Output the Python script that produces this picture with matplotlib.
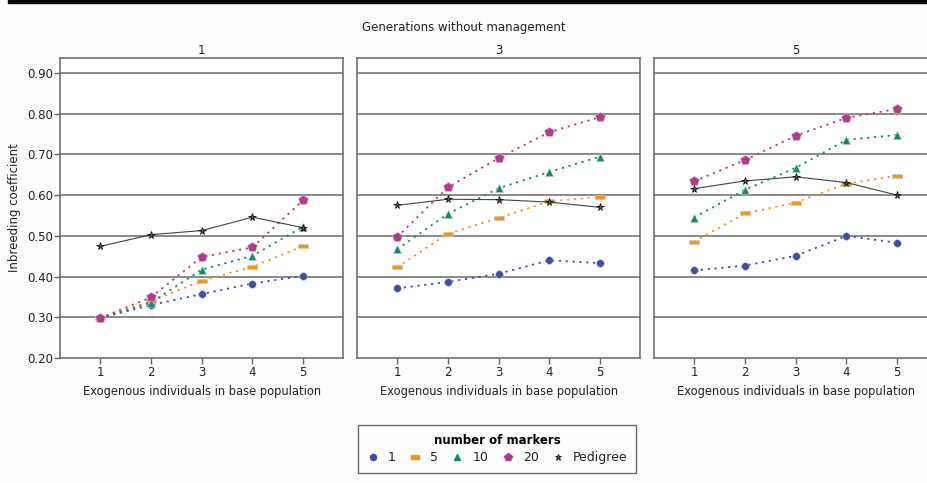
import matplotlib
matplotlib.use("Agg")
import matplotlib.pyplot as plt
from matplotlib.lines import Line2D
from matplotlib.path import Path

# panels: generations without management
generations = ["1", "3", "5"]
exogenous = [1, 2, 3, 4, 5]
marker_sets = ["1", "5", "10", "20"]

# inbreeding coefficient per panel, per number of markers
markers_1 = {
    "1": [0.298, 0.330, 0.357, 0.383, 0.402],
    "5": [0.298, 0.339, 0.390, 0.424, 0.475],
    "10": [0.298, 0.336, 0.417, 0.451, 0.523],
    "20": [0.298, 0.349, 0.448, 0.472, 0.588],
}
markers_3 = {
    "1": [0.371, 0.387, 0.407, 0.440, 0.433],
    "5": [0.423, 0.505, 0.544, 0.585, 0.596],
    "10": [0.467, 0.554, 0.617, 0.657, 0.695],
    "20": [0.497, 0.619, 0.691, 0.755, 0.792],
}
markers_5 = {
    "1": [0.415, 0.427, 0.451, 0.500, 0.483],
    "5": [0.486, 0.555, 0.582, 0.628, 0.648],
    "10": [0.545, 0.613, 0.667, 0.736, 0.748],
    "20": [0.634, 0.686, 0.746, 0.790, 0.812],
}
pedigree_1 = [0.474, 0.503, 0.513, 0.546, 0.520]
pedigree_3 = [0.575, 0.590, 0.589, 0.583, 0.570]
pedigree_5 = [0.616, 0.635, 0.645, 0.631, 0.600]

y_ticks = [0.20, 0.30, 0.40, 0.50, 0.60, 0.70, 0.80, 0.90]

colors = {"1": "#3f4fa6", "5": "#f0961e", "10": "#12896a", "20": "#b53a8e"}
bar = Path([(-1, -0.5), (1, -0.5), (1, 0.5), (-1, 0.5), (-1, -0.5)],
           [Path.MOVETO, Path.LINETO, Path.LINETO, Path.LINETO, Path.CLOSEPOLY])
shapes = {"1": ("o", 5.5), "5": (bar, 6.5), "10": ("^", 5.5), "20": ("p", 7)}

W, H = 928, 483
fig = plt.figure(figsize=(W / 100, H / 100), dpi=100, facecolor="#fdfdfd")
txt = "#222222"

# black band on top
fig.patches.append(plt.Rectangle((8 / W, 1 - 3 / H), 1, 3 / H, transform=fig.transFigure,
                                 color="black", zorder=10))

panel_w, panel_h = 283.3, 300
lefts = [60, 357, 654]
bottom = H - 358
data = [(markers_1, pedigree_1), (markers_3, pedigree_3), (markers_5, pedigree_5)]

for i, (gen, (mk, ped)) in enumerate(zip(generations, data)):
    ax = fig.add_axes([lefts[i] / W, bottom / H, panel_w / W, panel_h / H])
    ax.set_facecolor("white")
    ax.set_xlim(0.213, 5.787)
    ax.set_ylim(0.20, 0.937)
    ax.set_yticks(y_ticks)
    ax.set_xticks(exogenous)
    for y in y_ticks[1:]:
        ax.axhline(y, color="#8a8a8a", lw=1.4, zorder=0)
    for s in ax.spines.values():
        s.set_color("#666666")
        s.set_linewidth(1.1)
    ax.tick_params(axis="x", length=4, width=1, color="#666666", labelsize=8.5,
                   labelcolor=txt, pad=2)
    if i == 0:
        ax.set_yticklabels([f"{v:.2f}" for v in y_ticks])
        ax.tick_params(axis="y", length=4, width=1, color="#666666", labelsize=8.5,
                       labelcolor=txt, pad=1)
        ax.set_ylabel("Inbreeding coefficient", fontsize=8.5, color=txt, labelpad=4)
    else:
        ax.tick_params(axis="y", length=0, labelleft=False)
    ax.set_xlabel("Exogenous individuals in base population", fontsize=8.3,
                  color=txt, labelpad=4)
    ax.set_title(gen, fontsize=8.5, color=txt, pad=3)

    for m in marker_sets:
        shp, sz = shapes[m]
        ax.plot(exogenous, mk[m], color=colors[m], lw=1.3, ls=(0, (1.2, 2.6)),
                marker=shp, ms=sz, mec="#c8c8c8", mew=0.4, zorder=3)
    ax.plot(exogenous, ped, color="#444444", lw=0.8, marker="*", ms=5.5,
            mfc="#666666", mec="#111111", mew=0.6, zorder=4)

fig.text(0.5, 1 - 28 / H, "Generations without management", ha="center", va="center",
         fontsize=8.5, color=txt)

handles = []
for m in marker_sets:
    shp, sz = shapes[m]
    handles.append(Line2D([], [], ls="none", marker=shp, ms=sz * 0.8, color=colors[m], label=m))
handles.append(Line2D([], [], ls="none", marker="*", ms=5, mfc="#666666", mec="#111111",
                      mew=0.6, label="Pedigree"))
leg = fig.legend(handles=handles, loc="center", bbox_to_anchor=(497 / W, 34 / H), ncol=5,
                 title="number of markers", fontsize=9, frameon=True, fancybox=False,
                 handlelength=1.0, handletextpad=0.7, columnspacing=1.05,
                 borderpad=0.7, labelspacing=0.3)
leg.get_title().set_fontweight("bold")
leg.get_title().set_fontsize(8.5)
leg.get_frame().set_edgecolor("#444444")
leg.get_frame().set_linewidth(1.0)
leg.get_frame().set_facecolor("white")
for t in leg.get_texts():
    t.set_color(txt)

fig.savefig("out.png", dpi=100, facecolor=fig.get_facecolor())
